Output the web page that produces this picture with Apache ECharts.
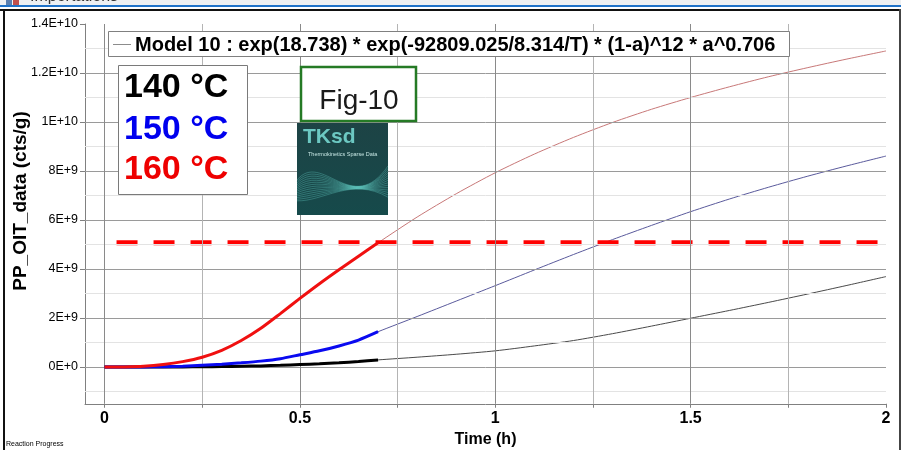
<!DOCTYPE html>
<html>
<head>
<meta charset="utf-8">
<script src="https://cdn.jsdelivr.net/npm/echarts@6/dist/echarts.min.js"></script>
<style>
html,body{margin:0;padding:0;background:#fff;}
#c{width:901px;height:450px;}
</style>
</head>
<body>
<div id="c"></div>
<script>
// ---- data (values in cts/g; time in h) ----
const MODEL_NAME = 'Model 10 : exp(18.738) * exp(-92809.025/8.314/T) * (1-a)^12 * a^0.706';
const tData = [0, 0.05, 0.1, 0.15, 0.2, 0.25, 0.3, 0.35, 0.4, 0.45, 0.5, 0.55, 0.6, 0.65, 0.7];
const data140 = [0, 0, 0.001e9, 0.002e9, 0.005e9, 0.01e9, 0.018e9, 0.03e9, 0.045e9, 0.07e9, 0.1e9, 0.13e9, 0.17e9, 0.225e9, 0.29e9];
const data150 = [0, 0.001e9, 0.005e9, 0.015e9, 0.035e9, 0.07e9, 0.11e9, 0.17e9, 0.24e9, 0.34e9, 0.5e9, 0.66e9, 0.86e9, 1.1e9, 1.44e9];
const data160 = [0, 0.005e9, 0.03e9, 0.1e9, 0.22e9, 0.4e9, 0.68e9, 1.08e9, 1.58e9, 2.18e9, 2.8e9, 3.4e9, 3.97e9, 4.52e9, 5.07e9];
const tModel = [0, 0.05, 0.1, 0.15, 0.2, 0.25, 0.3, 0.35, 0.4, 0.45, 0.5, 0.55, 0.6, 0.65, 0.7, 0.8, 0.9, 1.0, 1.1, 1.2, 1.3, 1.4, 1.5, 1.6, 1.7, 1.8, 1.9, 2.0];
const model140 = [0, 0, 0.001e9, 0.002e9, 0.005e9, 0.01e9, 0.018e9, 0.03e9, 0.045e9, 0.07e9, 0.1e9, 0.13e9, 0.17e9, 0.225e9, 0.29e9,
  0.4e9, 0.52e9, 0.66e9, 0.86e9, 1.08e9, 1.36e9, 1.67e9, 1.99e9, 2.31e9, 2.64e9, 2.98e9, 3.33e9, 3.69e9];
const model150 = [0, 0.001e9, 0.005e9, 0.015e9, 0.035e9, 0.07e9, 0.11e9, 0.17e9, 0.24e9, 0.34e9, 0.5e9, 0.66e9, 0.86e9, 1.1e9, 1.44e9,
  2.06e9, 2.69e9, 3.32e9, 3.96e9, 4.59e9, 5.2e9, 5.78e9, 6.34e9, 6.86e9, 7.34e9, 7.79e9, 8.21e9, 8.61e9];
const model160 = [0, 0.005e9, 0.03e9, 0.1e9, 0.22e9, 0.4e9, 0.68e9, 1.08e9, 1.58e9, 2.18e9, 2.8e9, 3.4e9, 3.97e9, 4.52e9, 5.07e9,
  6.12e9, 7.07e9, 7.93e9, 8.69e9, 9.37e9, 9.98e9, 10.52e9, 11.0e9, 11.44e9, 11.85e9, 12.22e9, 12.57e9, 12.9e9];
const thresholdX = [0, 2];
const thresholdY = 5.07e9;
const tempLabels = ['140 °C', '150 °C', '160 °C'];
// axis ticks
const xLabelTicks = [0, 0.5, 1, 1.5, 2];
const xTickMarks = [0, 0.25, 0.5, 0.75, 1, 1.25, 1.5, 1.75, 2];
const xMajorGrid = [0, 0.5, 1, 1.5];
const xMinorGrid = [0.25, 0.75, 1.25, 1.75];
const yLabelTicks = [0, 2e9, 4e9, 6e9, 8e9, 1e10, 1.2e10, 1.4e10];
const yMajorGrid = [0, 2e9, 4e9, 6e9, 8e9, 1e10, 1.2e10];
const yMinorGrid = [-1e9, 1e9, 3e9, 5e9, 7e9, 9e9, 1.1e10, 1.3e10];

const pair = (xs, ys) => xs.map((x, i) => [x, ys[i]]);

const chart = echarts.init(document.getElementById('c'), null, {renderer: 'canvas'});

const gridLines = []
  .concat(yMajorGrid.map(v => ({yAxis: v, lineStyle: {color: '#9a9a9a', width: 1, type: 'solid'}})))
  .concat(yMinorGrid.map(v => ({yAxis: v, lineStyle: {color: '#e3e3e3', width: 1, type: 'solid'}})))
  .concat(xMajorGrid.map(v => ({xAxis: v, lineStyle: {color: '#8a8a8a', width: 1, type: 'solid'}})))
  .concat(xMinorGrid.map(v => ({xAxis: v, lineStyle: {color: '#b4b4b4', width: 1, type: 'solid'}})));

// decorative logo waves
const waves = [];
for (let i = 0; i < 14; i++) {
  waves.push({
    type: 'bezierCurve', silent: true, z: 20,
    shape: {x1: 297, y1: 180 + i * 1.6, cpx1: 322, cpy1: 150 + i * 4, cpx2: 352, cpy2: 218 - i * 3.2, x2: 388, y2: 166 + i * 2.4},
    style: {stroke: 'rgba(110,225,215,0.5)', lineWidth: 0.6, fill: null}
  });
}

const sansB = "'Liberation Sans', Arial, sans-serif";

chart.setOption({
  animation: false,
  backgroundColor: '#ffffff',
  grid: {left: 85, right: 15, top: 24, bottom: 46.25, containLabel: false, outerBoundsMode: 'none'},
  xAxis: {
    type: 'value', min: -0.05, max: 2,
    name: 'Time (h)', nameLocation: 'middle', nameGap: 19,
    nameTextStyle: {fontSize: 16, fontWeight: 'bold', fontFamily: sansB, color: '#000'},
    axisLine: {show: true, onZero: false, lineStyle: {color: '#808080', width: 1}},
    axisTick: {show: true, customValues: xTickMarks, length: 4, lineStyle: {color: '#808080'}},
    axisLabel: {customValues: xLabelTicks, fontSize: 16, fontWeight: 'bold', fontFamily: sansB, color: '#000', margin: 7},
    splitLine: {show: false}
  },
  yAxis: {
    type: 'value', min: -1.5e9, max: 1.4e10,
    axisLine: {show: true, onZero: false, lineStyle: {color: '#808080', width: 1}},
    axisTick: {show: true, customValues: yLabelTicks, length: 5, lineStyle: {color: '#808080'}},
    axisLabel: {
      customValues: yLabelTicks, fontSize: 12.5, fontFamily: sansB, color: '#000', margin: 7,
      formatter: v => v === 0 ? '0E+0' : v.toExponential().replace('e', 'E')
    },
    splitLine: {show: false}
  },
  series: [
    {
      name: 'grid', type: 'line', data: [], z: 0, silent: true,
      markLine: {silent: true, symbol: 'none', label: {show: false}, animation: false, data: gridLines}
    },
    {name: 'model160', type: 'line', data: pair(tModel, model160), z: 3, showSymbol: false, smooth: 0.25,
      lineStyle: {color: '#c87878', width: 1}},
    {name: 'model150', type: 'line', data: pair(tModel, model150), z: 3, showSymbol: false, smooth: 0.25,
      lineStyle: {color: '#5a5a9c', width: 1}},
    {name: 'model140', type: 'line', data: pair(tModel, model140), z: 3, showSymbol: false, smooth: 0.25,
      lineStyle: {color: '#4a4a4a', width: 1}},
    {name: 'threshold', type: 'line', data: thresholdX.map(x => [x, thresholdY]), z: 4, showSymbol: false,
      lineStyle: {color: '#ff0000', width: 5, type: [21, 16], dashOffset: 25, cap: 'butt'}},
    {name: 'data140', type: 'line', data: pair(tData, data140), z: 5, showSymbol: false, smooth: 0.25,
      lineStyle: {color: '#000000', width: 3}},
    {name: 'data150', type: 'line', data: pair(tData, data150), z: 5, showSymbol: false, smooth: 0.25,
      lineStyle: {color: '#0a0af0', width: 3}},
    {name: 'data160', type: 'line', data: pair(tData, data160), z: 5, showSymbol: false, smooth: 0.25,
      lineStyle: {color: '#f01010', width: 3}}
  ],
  graphic: [
    // window chrome
    {type: 'rect', silent: true, z: 50, shape: {x: 0, y: 0, width: 901, height: 5}, style: {fill: '#eef0f2'}},
    {type: 'text', silent: true, z: 51, x: 30, y: -11, style: {text: 'Importations', fontSize: 16, fontFamily: sansB, fill: '#333'}},
    {type: 'rect', silent: true, z: 51, shape: {x: 6, y: 0, width: 6, height: 5}, style: {fill: '#5a7fb0'}},
    {type: 'rect', silent: true, z: 51, shape: {x: 13, y: 0, width: 6, height: 5}, style: {fill: '#c0504d'}},
    {type: 'rect', silent: true, z: 50, shape: {x: 0, y: 5, width: 901, height: 2}, style: {fill: '#1f72c8'}},
    {type: 'rect', silent: true, z: 50, shape: {x: 0, y: 9, width: 901, height: 2}, style: {fill: '#111'}},
    {type: 'rect', silent: true, z: 50, shape: {x: 3, y: 9, width: 2, height: 441}, style: {fill: '#111'}},
    {type: 'rect', silent: true, z: 50, shape: {x: 899, y: 9, width: 2, height: 441}, style: {fill: '#444'}},
    {type: 'text', silent: true, z: 50, x: 6, y: 441, style: {text: 'Reaction Progress', fontSize: 7, fontFamily: sansB, fill: '#000'}},
    // model legend box
    {type: 'rect', silent: true, z: 20, shape: {x: 108.5, y: 31.5, width: 681, height: 25}, style: {fill: '#fff', stroke: '#808080', lineWidth: 1}},
    {type: 'line', silent: true, z: 21, shape: {x1: 113, y1: 44.5, x2: 131, y2: 44.5}, style: {stroke: '#8c8c8c', lineWidth: 1}},
    {type: 'text', silent: true, z: 21, x: 135, y: 45, style: {text: MODEL_NAME, fontSize: 20, fontWeight: 'bold', fontFamily: sansB, fill: '#000', verticalAlign: 'middle'}},
    // y axis title
    {type: 'text', silent: true, z: 30, x: 21, y: 201, rotation: Math.PI / 2,
      style: {text: 'PP_OIT_data (cts/g)', fontSize: 19, fontWeight: 'bold', fontFamily: sansB, fill: '#000', align: 'center', verticalAlign: 'middle'}},
    // temperature box
    {type: 'rect', silent: true, z: 20, shape: {x: 118.5, y: 65.5, width: 129, height: 129}, style: {fill: '#fff', stroke: '#7a7a7a', lineWidth: 1}},
    {type: 'text', silent: true, z: 21, x: 124, y: 88, style: {text: tempLabels[0], fontSize: 34, fontWeight: 'bold', fontFamily: sansB, fill: '#000', verticalAlign: 'middle'}},
    {type: 'text', silent: true, z: 21, x: 124, y: 130, style: {text: tempLabels[1], fontSize: 34, fontWeight: 'bold', fontFamily: sansB, fill: '#0000ee', verticalAlign: 'middle'}},
    {type: 'text', silent: true, z: 21, x: 124, y: 170, style: {text: tempLabels[2], fontSize: 34, fontWeight: 'bold', fontFamily: sansB, fill: '#ee0000', verticalAlign: 'middle'}},
    // Fig-10 box
    {type: 'rect', silent: true, z: 20, shape: {x: 301, y: 67, width: 115, height: 54}, style: {fill: '#fff', stroke: '#257a25', lineWidth: 2.5}},
    {type: 'text', silent: true, z: 21, x: 359, y: 101, style: {text: 'Fig-10', fontSize: 28, fontFamily: sansB, fill: '#1a1a1a', align: 'center', verticalAlign: 'middle'}},
    // TKsd logo
    {type: 'rect', silent: true, z: 19, shape: {x: 297, y: 123, width: 91, height: 92},
      style: {fill: new echarts.graphic.LinearGradient(0, 0, 0, 1, [{offset: 0, color: '#1d4345'}, {offset: 1, color: '#164a4b'}])}},
    {type: 'text', silent: true, z: 21, x: 303, y: 127, style: {text: 'TKsd', fontSize: 21, fontWeight: 'bold', fontFamily: sansB, fill: '#6cc8c2', verticalAlign: 'top'}},
    {type: 'text', silent: true, z: 21, x: 308, y: 154, style: {text: 'Thermokinetics Sparse Data', fontSize: 5.5, fontFamily: sansB, fill: '#c6e6e3', verticalAlign: 'middle'}}
  ].concat(waves)
});
</script>
</body>
</html>
